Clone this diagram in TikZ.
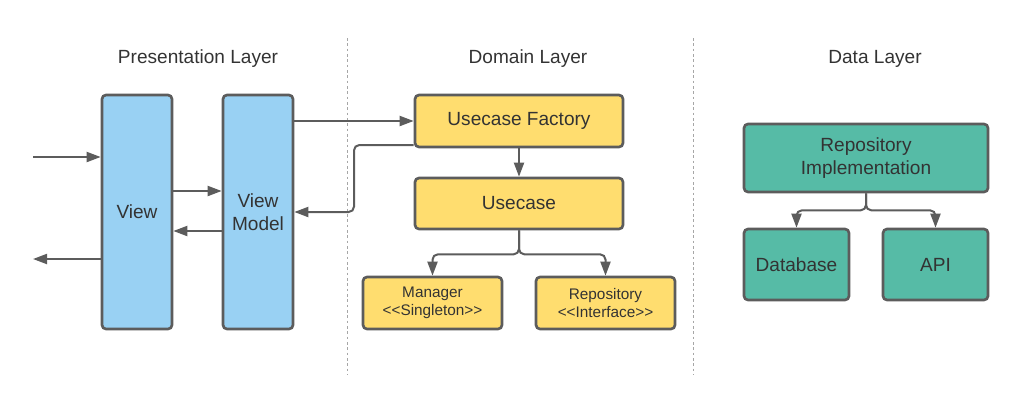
\documentclass[tikz,border=0pt]{standalone}
\usepackage{fontspec}
\setmainfont{Liberation Sans}
\usepackage{tikz}
\usetikzlibrary{calc,arrows.meta}
\definecolor{viewblue}{HTML}{99D1F3}
\definecolor{domainyellow}{HTML}{FFDD6F}
\definecolor{datagreen}{HTML}{56BBA6}
\definecolor{edgegray}{HTML}{5C5C5C}
\definecolor{textgray}{HTML}{333333}
\newcommand{\px}{0.75pt}
\newcommand{\bigtext}{\fontsize{14.3pt}{17.3pt}\selectfont}
\newcommand{\smalltext}{\fontsize{11.5pt}{13.5pt}\selectfont}
\tikzset{
  box/.style={draw=edgegray, line width=2pt, rounded corners=3pt, align=center, text=textgray, inner sep=0pt},
  arrow/.style={draw=edgegray, line width=1.5pt, -{Triangle[length=10.5pt,width=7.5pt]}},
  layer/.style={text=textgray, font=\bigtext},
  sep/.style={draw=gray!70, line width=0.7pt, dash pattern=on 2pt off 2pt}
}

\begin{document}
\begin{tikzpicture}[x=\px, y=-\px]
\useasboundingbox (0,0) rectangle (1024,408);
%layers
\node[layer] (pres) at (198,59) {Presentation Layer};
\node[layer] (dom) at (528,59) {Domain Layer};
\node[layer] (dat) at (875,59) {Data Layer};
\draw[sep] (347,38) -- (347,375);
\draw[sep] (693,38) -- (693,375);
%presentation
\node[box, fill=viewblue, minimum width=70*\px, minimum height=234*\px, font=\bigtext] (view) at (137,212) {View};
\node[box, fill=viewblue, minimum width=70*\px, minimum height=234*\px, font=\bigtext] (vm) at (258,212) {View\\Model};
\coordinate (in) at (33,157);
\coordinate (out) at (33,259);
\draw[arrow] (in) -- (in -| view.west);
\draw[arrow] (out -| view.west) -- (out);
\draw[arrow] ([yshift=21*\px]view.east) -- ([yshift=21*\px]vm.west);
\draw[arrow] ([yshift=-19*\px]vm.west) -- ([yshift=-19*\px]view.east);
%domain
\node[box, fill=domainyellow, minimum width=208*\px, minimum height=52*\px, font=\bigtext] (ucf) at (519,121) {Usecase Factory};
\node[box, fill=domainyellow, minimum width=208*\px, minimum height=51*\px, font=\bigtext] (uc) at (519,203.5) {Usecase};
\node[box, fill=domainyellow, minimum width=139*\px, minimum height=52*\px, font=\smalltext] (mgr) at (432.5,303) {Manager\\<{}<Singleton>{}>};
\node[box, fill=domainyellow, minimum width=139*\px, minimum height=52*\px, font=\smalltext] (repo) at (605.5,303) {Repository\\<{}<Interface>{}>};
\draw[arrow] (ucf.west -| vm.east) -- (ucf.west);
\draw[arrow, rounded corners=4pt] ([yshift=-24*\px]ucf.west) -| ($(vm.east)!.5!(ucf.west)$) |- (vm.east);
\draw[arrow] (ucf.south) -- (uc.north);
\draw[arrow, rounded corners=4pt] (uc.south) -- ++(0,24) -| (mgr.north);
\draw[arrow, rounded corners=4pt] (uc.south) -- ++(0,24) -| (repo.north);
%data
\node[box, fill=datagreen, minimum width=244*\px, minimum height=68*\px, font=\bigtext] (impl) at (866,158) {Repository\\Implementation};
\node[box, fill=datagreen, minimum width=105*\px, minimum height=71*\px, font=\bigtext] (db) at (796.5,264.5) {Database};
\node[box, fill=datagreen, minimum width=105*\px, minimum height=71*\px, font=\bigtext] (api) at (935.5,264.5) {API};
\draw[arrow, rounded corners=4pt] (impl.south) -- ++(0,17) -| (db.north);
\draw[arrow, rounded corners=4pt] (impl.south) -- ++(0,17) -| (api.north);
\end{tikzpicture}
\end{document}
